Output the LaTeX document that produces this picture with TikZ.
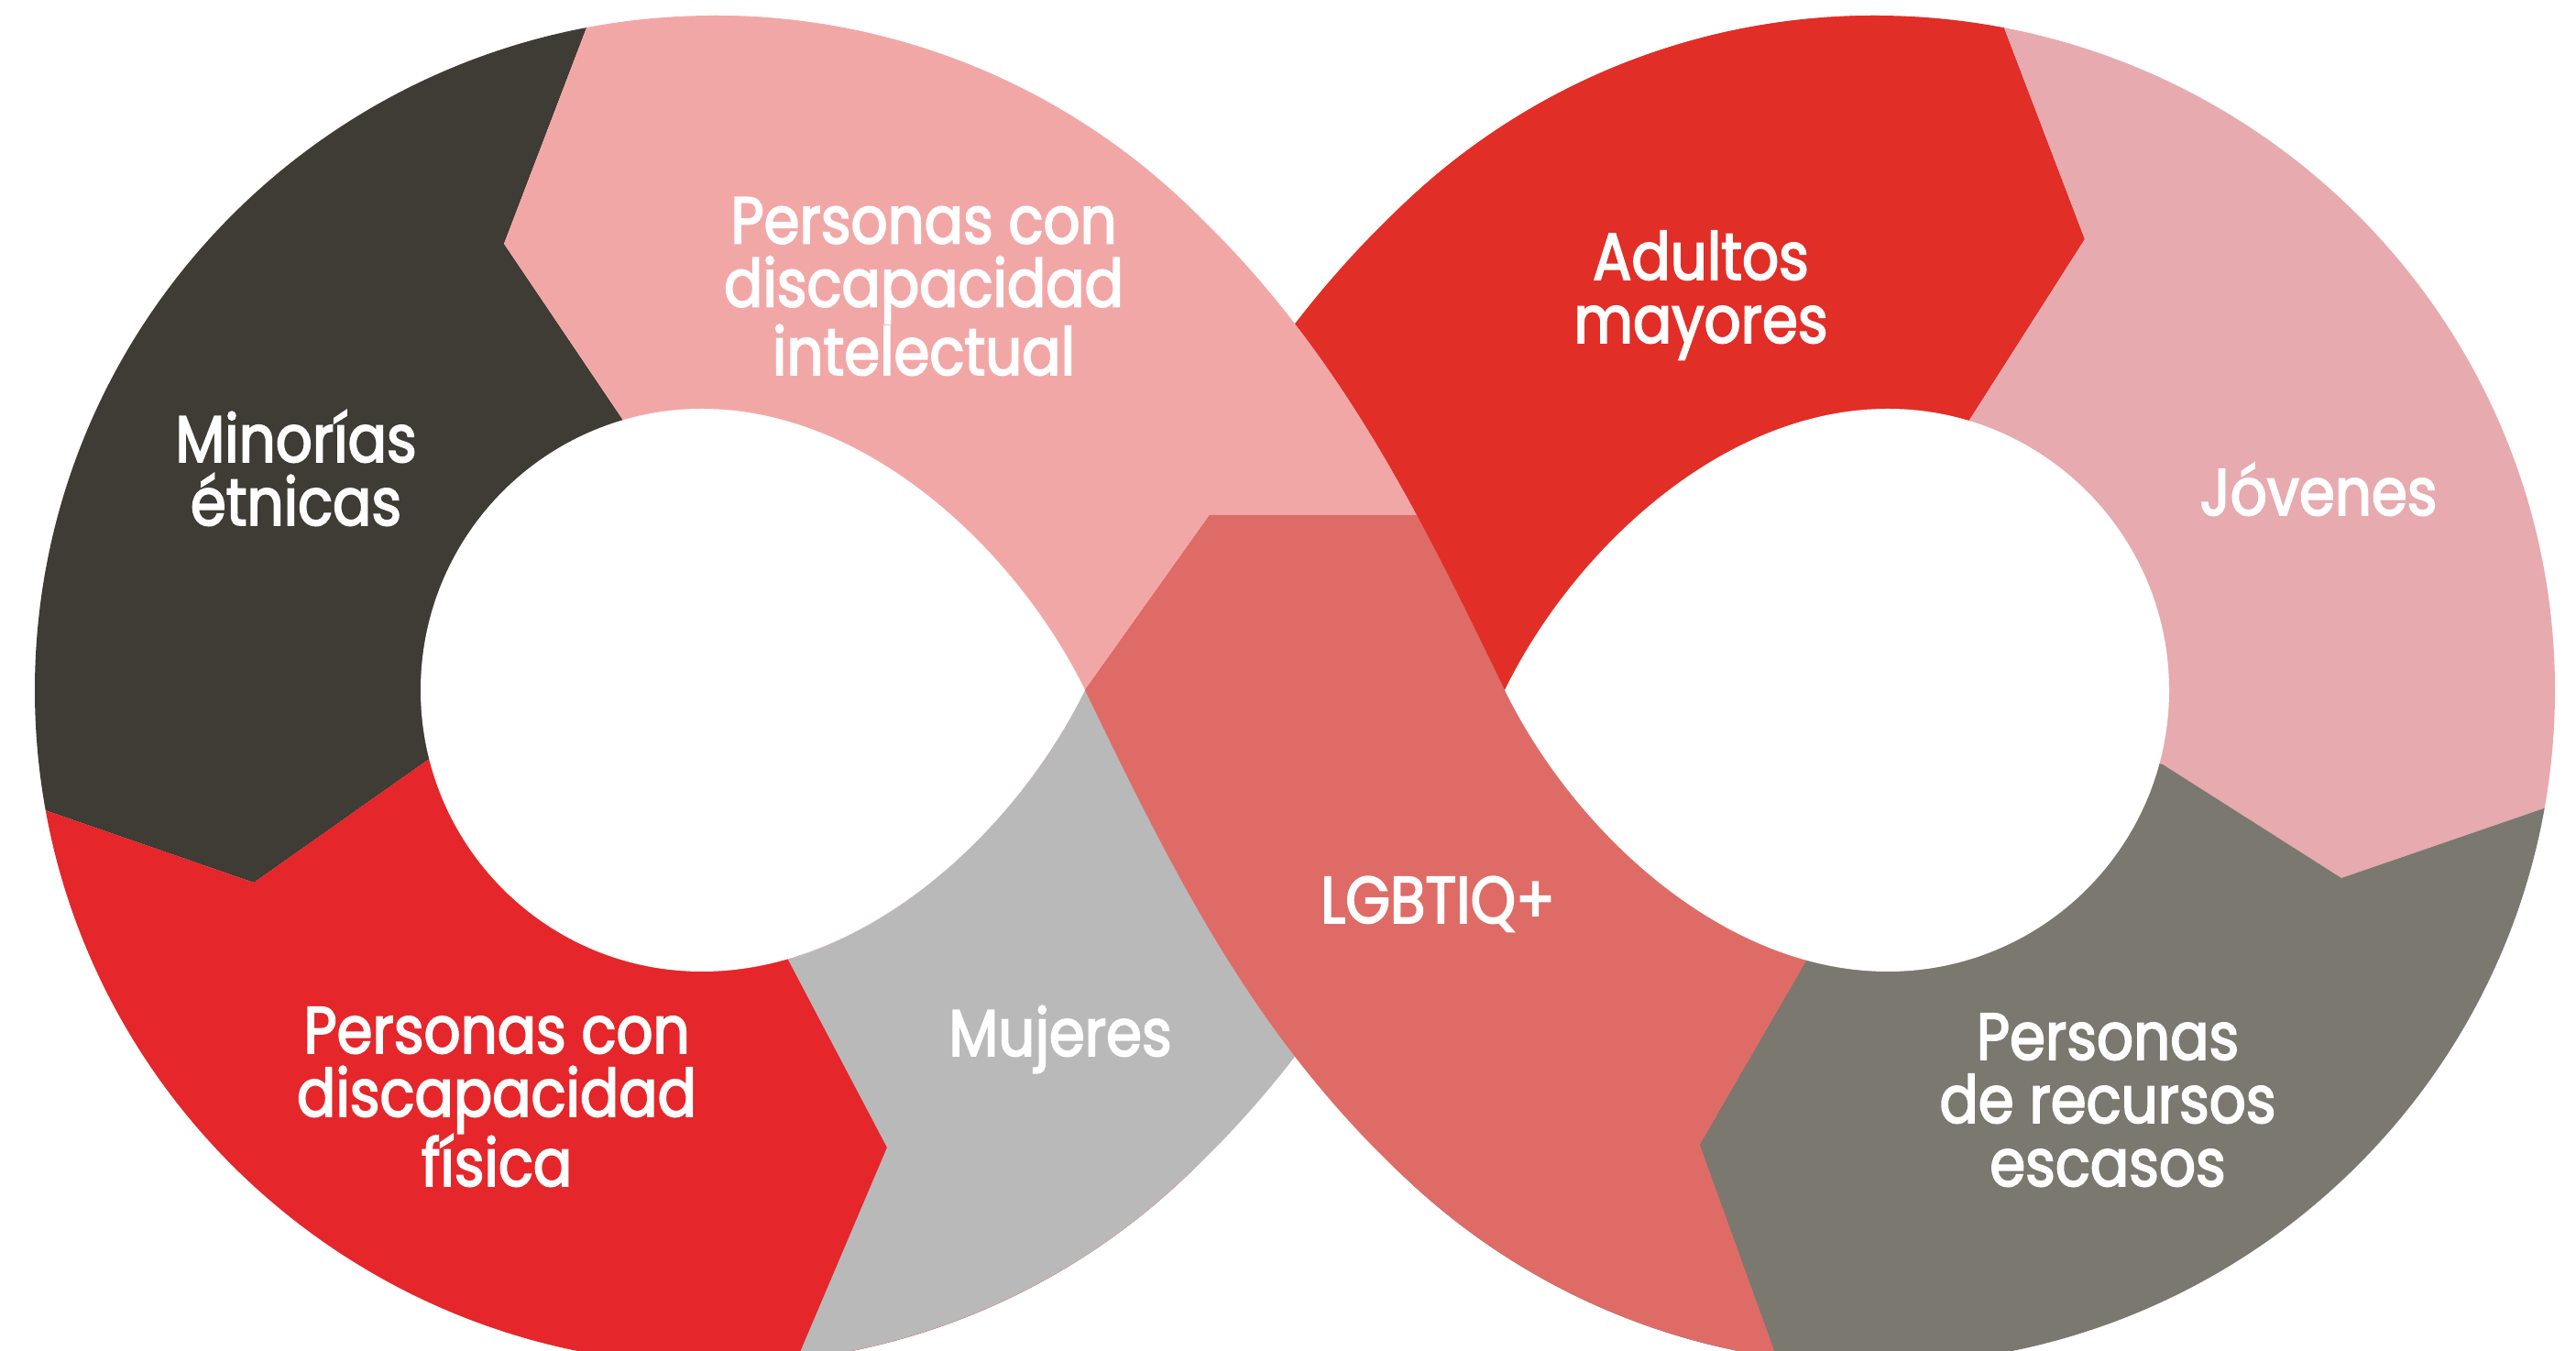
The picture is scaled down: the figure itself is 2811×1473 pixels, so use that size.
\documentclass[tikz,border=0pt]{standalone}
\usepackage{fontspec}
\newfontfamily\labelfont{Poppins}[FakeStretch=0.87,FakeBold=2.5]
\usepackage{tikz}

\definecolor{minorias}{HTML}{3F3B35}
\definecolor{intelectual}{HTML}{F2A7A7}
\definecolor{fisica}{HTML}{E5262A}
\definecolor{mujeres}{HTML}{B9B9B9}
\definecolor{lgbt}{HTML}{DF6B67}
\definecolor{adultos}{HTML}{E12E27}
\definecolor{jovenes}{HTML}{E7AAAE}
\definecolor{escasos}{HTML}{7B7870}

% the two halves of the band
\newcommand\bandpathA{(780,1456) arc[start angle=90, end angle=46.8, x radius=742pt, y radius=736pt]
  .. controls (1457,1101) and (1546,918) .. (1642,720)
  .. controls (1717,567) and (1880,413) .. (2060,413) -- (2046,-16)
  arc[start angle=270, end angle=226.8, x radius=742pt, y radius=736pt]
  .. controls (1369,339) and (1280,522) .. (1184,720)
  .. controls (1109,873) and (946,1027) .. (766,1027) -- cycle}
\newcommand\bandpathB{(2046,1456) arc[start angle=90, end angle=133.2, x radius=742pt, y radius=736pt]
  .. controls (1369,1101) and (1280,918) .. (1184,720)
  .. controls (1109,567) and (946,413) .. (766,413) -- (780,-16)
  arc[start angle=270, end angle=313.2, x radius=742pt, y radius=736pt]
  .. controls (1457,339) and (1546,522) .. (1642,720)
  .. controls (1717,873) and (1880,1027) .. (2060,1027) -- cycle}

\begin{document}
\begin{tikzpicture}[x=1pt,y=1pt,
  lbl/.style={text=white, align=center, inner sep=0pt, anchor=base,
    font=\labelfont\fontsize{72}{69}\selectfont}]
  \useasboundingbox (0,0) rectangle (2811,1473);
  \coordinate (hl) at (766,720);
  \coordinate (hr) at (2060,720);
  \coordinate (tl) at (1184,720);
  \coordinate (tr) at (1642,720);

  % left lobe
  \begin{scope}
    \clip (780,720) ellipse [x radius=742pt, y radius=736pt];
    \fill[minorias] (hl) -- (681,1013) -- (550,1207) -- (639,1440) -- (681,1550)
      -- (-120,1550) -- (-120,648) -- (52,588) -- (277,510) -- (467,644) -- cycle;
    \fill[intelectual] (hl) -- (681,1013) -- (550,1207) -- (639,1440) -- (681,1550)
      -- (1700,1550) -- (1700,720) -- cycle;
    \fill[fisica] (hl) -- (467,644) -- (277,510) -- (52,588) -- (-120,648)
      -- (-120,-100) -- (1700,-100) -- (1700,720) -- cycle;
  \end{scope}

  % right lobe
  \begin{scope}
    \clip (2046,720) ellipse [x radius=742pt, y radius=736pt];
    \fill[adultos] (hr) -- (2148,1013) -- (2275,1212) -- (2188,1440) -- (2150,1540)
      -- (1000,1540) -- (1000,720) -- cycle;
    \fill[jovenes] (hr) -- (2148,1013) -- (2275,1212) -- (2188,1440) -- (2150,1540)
      -- (2900,1540) -- (2900,634) -- (2773,590) -- (2555,515) -- (2360,639) -- cycle;
    \fill[escasos] (hr) -- (2360,639) -- (2555,515) -- (2773,590) -- (2900,634)
      -- (2900,-100) -- (1000,-100) -- (1000,720) -- cycle;
  \end{scope}

  % band from bottom left to top right
  \begin{scope}
    \clip \bandpathB;
    \fill[fisica] (hl) -- (860,426) -- (968,221) -- (874,0) -- (831,-100)
      -- (0,-100) -- (0,720) -- cycle;
    \fill[mujeres] (hl) -- (860,426) -- (968,221) -- (874,0) -- (831,-100)
      -- (2900,-100) -- (2900,720) -- cycle;
    \fill[adultos] (0,720) rectangle (2900,1600);
  \end{scope}

  % band from top left to bottom right, on top
  \begin{scope}
    \clip \bandpathA;
    \fill[intelectual] (0,720) -- (tl) -- (1320,911) -- (2900,911) -- (2900,1600)
      -- (0,1600) -- cycle;
    \fill[lgbt] (tl) -- (1320,911) -- (2200,911) -- (2200,720) -- (hr) -- (1972,426)
      -- (1855,224) -- (1936,0) -- (1972,-100) -- (1184,-100) -- cycle;
    \fill[escasos] (hr) -- (1972,426) -- (1855,224) -- (1936,0) -- (1972,-100)
      -- (2900,-100) -- (2900,720) -- cycle;
  \end{scope}

  % holes
  \fill[white] (766,1027) .. controls (946,1027) and (1109,873) .. (tl)
    .. controls (1109,567) and (946,413) .. (766,413)
    arc[start angle=270, end angle=90, radius=307pt] -- cycle;
  \fill[white] (2060,1027) .. controls (1880,1027) and (1717,873) .. (tr)
    .. controls (1717,567) and (1880,413) .. (2060,413)
    arc[start angle=-90, end angle=90, radius=307pt] -- cycle;

  \node (minor) [lbl] at (323,900) {Minorías\\étnicas};
  \node (intel) [lbl] at (1008,1064) {Personas con\\discapacidad\\intelectual};
  \node (fis) [lbl] at (542,179) {Personas con\\discapacidad\\física};
  \node (muj) [lbl] at (1157,321) {Mujeres};
  \node (lgbtiq) [lbl] at (1569,466) {LGBTIQ+};
  \node (adult) [lbl] at (1856,1099) {Adultos\\mayores};
  \node (joven) [lbl] at (2530,911) {Jóvenes};
  \node (recursos) [lbl] at (2300,179) {Personas\\de recursos\\escasos};
\end{tikzpicture}
\end{document}
